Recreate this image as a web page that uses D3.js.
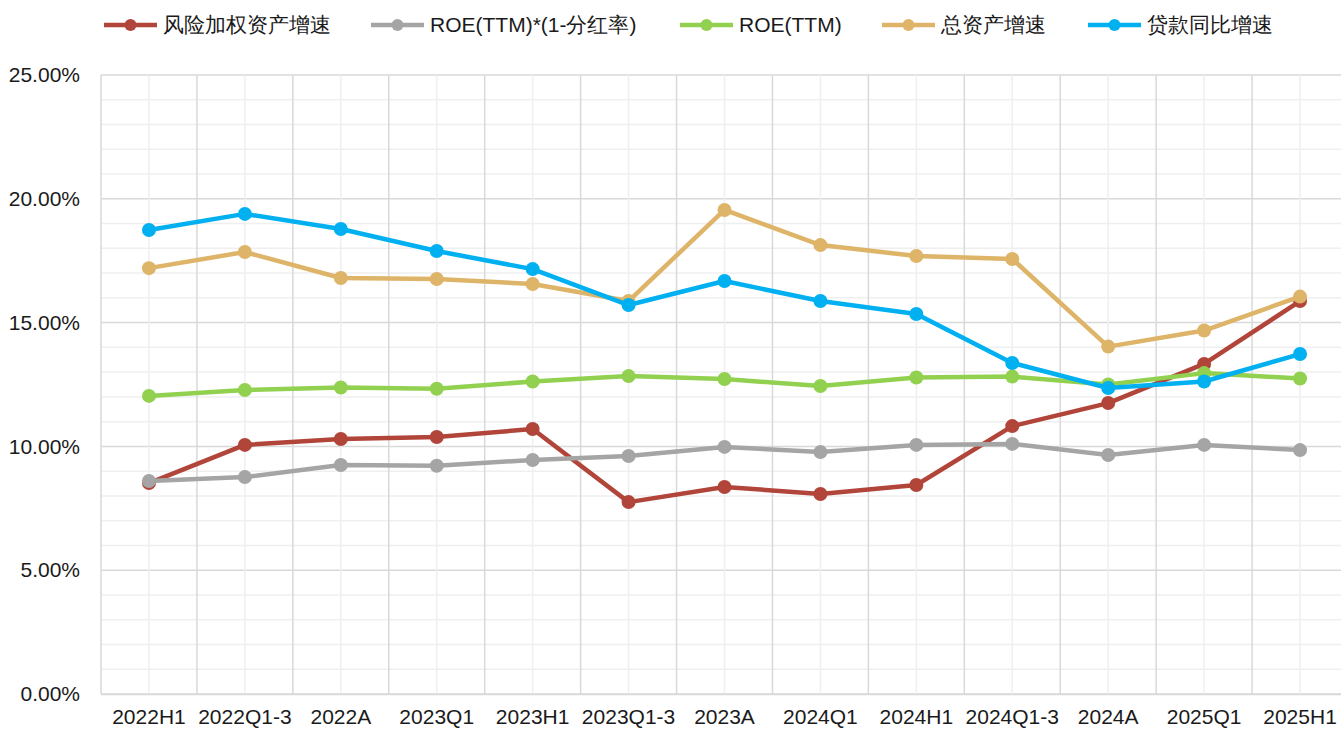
<!DOCTYPE html>
<html>
<head>
<meta charset="utf-8">
<script src="https://cdn.jsdelivr.net/npm/d3@7"></script>
<style>
  body { margin: 0; background: #fff; }
  svg { display: block; font-family: "Liberation Sans", Arial, sans-serif; }
</style>
</head>
<body>
<script>
// categories on the x axis
var categories = ["2022H1", "2022Q1-3", "2022A", "2023Q1", "2023H1", "2023Q1-3", "2023A",
                  "2024Q1", "2024H1", "2024Q1-3", "2024A", "2025Q1", "2025H1"];

// series values (percent)
var rwaGrowth   = [8.52, 10.06, 10.30, 10.38, 10.70, 7.75, 8.36, 8.08, 8.44, 10.82, 11.75, 13.33, 15.87];
var roeRetained = [8.60, 8.76, 9.25, 9.22, 9.45, 9.61, 9.98, 9.77, 10.06, 10.10, 9.65, 10.06, 9.85];
var roeTTM      = [12.04, 12.28, 12.38, 12.33, 12.62, 12.84, 12.72, 12.44, 12.78, 12.82, 12.50, 12.96, 12.74];
var assetGrowth = [17.20, 17.85, 16.80, 16.76, 16.56, 15.87, 19.55, 18.13, 17.69, 17.57, 14.03, 14.68, 16.05];
var loanGrowth  = [18.74, 19.39, 18.78, 17.89, 17.16, 15.71, 16.68, 15.87, 15.35, 13.37, 12.36, 12.62, 13.73];

// y tick labels
var yTicks = [0, 5, 10, 15, 20, 25];

var seriesNames = ["风险加权资产增速", "ROE(TTM)*(1-分红率)", "ROE(TTM)", "总资产增速", "贷款同比增速"];
var seriesColors = ["#B1453A", "#A5A5A5", "#92D050", "#DEB468", "#00B0F0"];
var seriesData = [rwaGrowth, roeRetained, roeTTM, assetGrowth, loanGrowth];

// page dimensions
var p = {
    width: 1341,
    height: 729,
    left: 101,
    right: 1348,
    top: 75,
    bottom: 694
};

var svg = d3.select("body").append("svg").attr("width", p.width).attr("height", p.height);

var x = d3.scaleBand().domain(categories).range([p.left, p.right]);
var y = d3.scaleLinear().domain([0, 25]).range([p.bottom, p.top]);

// grid layer
var grid = svg.append("g");

// horizontal lines every 1%, darker every 5%
grid.selectAll("line.hmin").data(d3.range(0, 26)).enter().append("line")
    .attr("x1", p.left).attr("x2", p.right)
    .attr("y1", d => y(d)).attr("y2", d => y(d))
    .style("stroke", d => d % 5 == 0 ? "#d9d9d9" : "#efefef")
    .style("stroke-width", 1.5);

// minor vertical lines at category centers
grid.selectAll("line.vmin").data(categories).enter().append("line")
    .attr("x1", d => x(d) + x.bandwidth() / 2).attr("x2", d => x(d) + x.bandwidth() / 2)
    .attr("y1", p.top).attr("y2", p.bottom)
    .style("stroke", "#efefef")
    .style("stroke-width", 1.5);

// major vertical lines at category edges
grid.selectAll("line.vmaj").data(categories).enter().append("line")
    .attr("x1", d => x(d)).attr("x2", d => x(d))
    .attr("y1", p.top).attr("y2", p.bottom)
    .style("stroke", "#d9d9d9")
    .style("stroke-width", 1.5);

// y axis labels
var yAxis = svg.append("g")
    .attr("transform", "translate(" + (p.left - 18) + ",0)")
    .call(d3.axisLeft(y).tickValues(yTicks).tickSize(0).tickFormat(d => d3.format(".2f")(d) + "%"));
yAxis.select(".domain").remove();
yAxis.selectAll("text").style("font-size", "21px").style("fill", "#1a1a1a");

// x axis labels
var xAxis = svg.append("g")
    .attr("transform", "translate(0," + p.bottom + ")")
    .call(d3.axisBottom(x).tickSize(0).tickPadding(15));
xAxis.select(".domain").style("stroke", "#d9d9d9").style("stroke-width", 1.5);
xAxis.selectAll("text").style("font-size", "21px").style("fill", "#1a1a1a");

// series lines and markers
var line = d3.line()
    .x((d, i) => x(categories[i]) + x.bandwidth() / 2)
    .y(d => y(d));

seriesData.forEach(function(values, s) {
    var g = svg.append("g");
    g.append("path")
        .attr("d", line(values))
        .style("fill", "none")
        .style("stroke", seriesColors[s])
        .style("stroke-width", 4.5)
        .style("stroke-linejoin", "round");
    g.selectAll("circle").data(values).enter().append("circle")
        .attr("cx", (d, i) => x(categories[i]) + x.bandwidth() / 2)
        .attr("cy", d => y(d))
        .attr("r", 7)
        .style("fill", seriesColors[s]);
});

// legend
var legendX = [104, 371, 680, 882, 1088];
var legend = svg.append("g");
seriesNames.forEach(function(name, s) {
    var item = legend.append("g").attr("transform", "translate(" + legendX[s] + ",25)");
    item.append("line")
        .attr("x1", 0).attr("x2", 53).attr("y1", 0).attr("y2", 0)
        .style("stroke", seriesColors[s]).style("stroke-width", 4.5);
    item.append("circle").attr("cx", 26.5).attr("cy", 0).attr("r", 6).style("fill", seriesColors[s]);
    item.append("text")
        .attr("x", 59).attr("y", 0).attr("dy", "0.35em")
        .style("font-size", "21px").style("fill", "#1a1a1a")
        .text(name);
});
</script>
</body>
</html>
